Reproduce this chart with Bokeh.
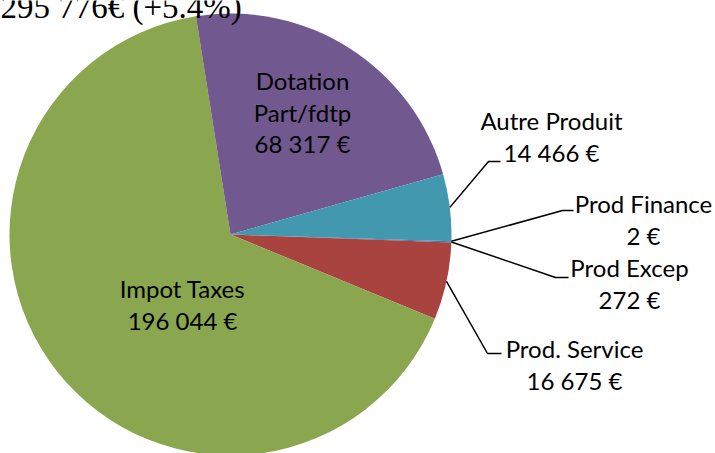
import numpy as np
from bokeh.plotting import figure
from bokeh.models import Range1d, ColumnDataSource
from bokeh.core.properties import value
from bokeh.embed import file_html
from bokeh.resources import INLINE

# ---------------- data (Excel series order) ----------------
categories = ["Prod Excep", "Prod. Service", "Impot Taxes", "Dotation\nPart/fdtp", "Autre Produit", "Prod Finance"]
amounts = [272, 16675, 196044, 68317, 14466, 2]
colors = ["#4A74AA", "#A8433F", "#8AA64F", "#71588F", "#4198AF", "#DA8137"]
growth_label = "(+5.4%)"

# ---------------- layout (picture pixel coords) ----------------
W, H = 715, 453
CX, CY, R = 230, 234, 221
FIRST_ANGLE_CW = 91.76  # degrees clockwise from 12 o'clock
LINE_SP = 31.5
# label block: (center x, first line center y, elbow point or None, elbow end x)
label_layout = [
    (629, 267, (555, 277), 568),
    (574, 348, (487, 353), 501),
    (182, 288, None, None),
    (302, 80, None, None),
    (551, 120, (488, 161), 500),
    (643, 203, (562, 210), 573),
]


def fx(X):
    return X


def fy(Y):
    return H - Y


def fmt(v):
    return f"{v:,}".replace(",", " ") + " \u20ac"


total = sum(amounts)
title_text = f"{total:,}".replace(",", " ") + "\u20ac " + growth_label

p = figure(width=W, height=H, output_backend="svg", toolbar_location=None,
           x_range=Range1d(0, W), y_range=Range1d(0, H),
           x_axis_location=None, y_axis_location=None, min_border=0)
p.outline_line_color = None
p.xgrid.visible = False
p.ygrid.visible = False
p.background_fill_color = "white"
p.border_fill_color = "white"

# ---------------- wedges ----------------
frac = np.array(amounts, dtype=float) / total
cum = np.concatenate([[0.0], np.cumsum(frac)]) * 360.0
start_cw = FIRST_ANGLE_CW + cum[:-1]
end_cw = FIRST_ANGLE_CW + cum[1:]
mid_cw = (start_cw + end_cw) / 2.0
start_math = np.radians(90.0 - start_cw)
end_math = np.radians(90.0 - end_cw)

src = ColumnDataSource(dict(
    x=[fx(CX)] * len(amounts), y=[fy(CY)] * len(amounts),
    start=list(start_math), end=list(end_math), color=colors,
))
p.wedge(x="x", y="y", radius=R, start_angle="start", end_angle="end",
        direction="clock", fill_color="color", line_color=None, source=src)

# ---------------- labels ----------------
tx, ty, tt = [], [], []
for cat, amt, (lx, ly, elbow, ex), m in zip(categories, amounts, label_layout, mid_cw):
    lines = cat.split("\n") + [fmt(amt)]
    for i, ln in enumerate(lines):
        tx.append(fx(lx))
        ty.append(fy(ly + i * LINE_SP))
        tt.append(ln)
    if elbow is not None:
        a = np.radians(m)
        sx = CX + R * np.sin(a)
        sy = CY - R * np.cos(a)
        p.line([fx(sx), fx(elbow[0]), fx(ex)], [fy(sy), fy(elbow[1]), fy(elbow[1])],
               line_color="black", line_width=1.5)

p.text(x=tx, y=ty, text=tt, text_align="center", text_baseline="middle",
       text_font=value("Lato"), text_font_size="24px", text_color="#000000")

# ---------------- title (partly cut at the top, as in the original) ----------------
p.text(x=[fx(0)], y=[fy(6)], text=[title_text], text_align="left",
       text_baseline="alphabetic", text_font=value("Liberation Serif"),
       text_font_size="33px", text_color="black")

open("out.html", "w").write(file_html(p, INLINE))
